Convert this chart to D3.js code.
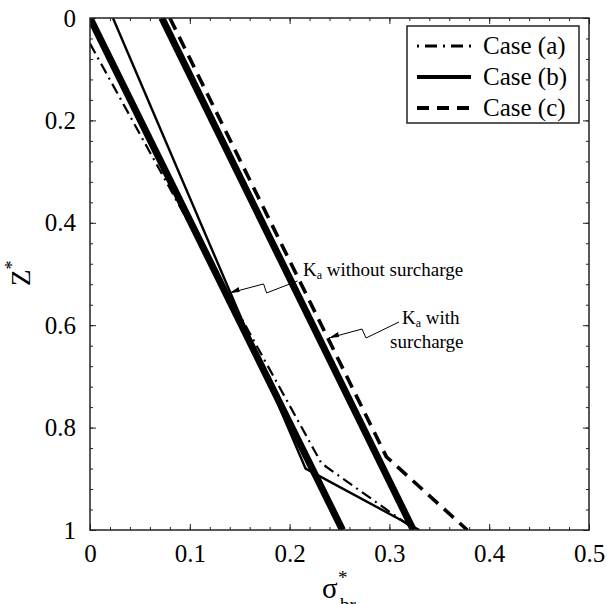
<!DOCTYPE html>
<html><head><meta charset="utf-8">
<script src="https://cdn.jsdelivr.net/npm/d3@7/dist/d3.min.js"></script>
<style>
html,body{margin:0;padding:0;background:#fff;}
svg{display:block;}
text{font-family:"Liberation Serif","Times New Roman",serif;fill:#000;}
</style></head>
<body>
<svg id="chart" width="607" height="604"></svg>
<script>
// ---- data ----
const sigmaTicks = [0, 0.1, 0.2, 0.3, 0.4, 0.5];
const zTicks = [0, 0.2, 0.4, 0.6, 0.8, 1];
const sigmaMinorTicks = d3.range(0, 0.5001, 0.02);
const zMinorTicks = d3.range(0, 1.0001, 0.04);

const kaNoSurchargeSigma = [0, 0.253];
const kaNoSurchargeZ = [0, 1];
const kaSurchargeSigma = [0.072, 0.324];
const kaSurchargeZ = [0, 1];

const caseASigma = [0, 0.232, 0.326];
const caseAZ = [0.05, 0.87, 1];
const caseBSigma = [0.023, 0.216, 0.33];
const caseBZ = [0, 0.88, 1];
const caseCSigma = [0.08, 0.297, 0.378];
const caseCZ = [0, 0.857, 1];

const legendLabels = ["Case (a)", "Case (b)", "Case (c)"];

// ---- layout ----
const svg = d3.select("#chart");
const x = d3.scaleLinear().domain([0, 0.5]).range([90, 589]);
const y = d3.scaleLinear().domain([0, 1]).range([18, 530]);
const fmt = d => d === 0 ? "0" : d === 1 ? "1" : d3.format(".1f")(d);

svg.append("defs").append("clipPath").attr("id", "plotclip")
  .append("rect").attr("x", x(0)).attr("y", y(0))
  .attr("width", x(0.5) - x(0)).attr("height", y(1) - y(0));

const toPts = (s, z) => s.map((v, i) => [v, z[i]]);
const line = d3.line().x(d => x(d[0])).y(d => y(d[1]));

const plot = svg.append("g").attr("clip-path", "url(#plotclip)");

// Ka lines (thick)
plot.append("path").datum(toPts(kaNoSurchargeSigma, kaNoSurchargeZ))
  .attr("d", line).attr("fill", "none").attr("stroke", "#000").attr("stroke-width", 7);
plot.append("path").datum(toPts(kaSurchargeSigma, kaSurchargeZ))
  .attr("d", line).attr("fill", "none").attr("stroke", "#000").attr("stroke-width", 7);

// cases
const styles = [
  {w: 2.2, dash: "11,5,2,5"},
  {w: 2.4, dash: null},
  {w: 3.6, dash: "13,8"}
];
const cases = [toPts(caseASigma, caseAZ), toPts(caseBSigma, caseBZ), toPts(caseCSigma, caseCZ)];
cases.forEach((pts, i) => {
  plot.append("path").datum(pts).attr("d", line)
    .attr("fill", "none").attr("stroke", "#000")
    .attr("stroke-width", styles[i].w)
    .attr("stroke-dasharray", styles[i].dash)
    .attr("stroke-linejoin", "miter");
});

// ---- axes ----
const axisG = svg.append("g");
function styleAxis(g) {
  g.select(".domain").remove();
  g.attr("font-family", null);
  g.selectAll("line").attr("stroke", "#222").attr("stroke-width", 1);
  g.selectAll("text").style("font-family", "Liberation Serif, serif").style("font-size", "25px").attr("fill", "#000");
}
// bottom
axisG.append("g").attr("transform", `translate(0,${y(1)})`)
  .call(d3.axisBottom(x).tickValues(sigmaTicks).tickFormat(fmt).tickSizeInner(-6).tickSizeOuter(0).tickPadding(14))
  .call(styleAxis);
axisG.append("g").attr("transform", `translate(0,${y(1)})`)
  .call(d3.axisBottom(x).tickValues(sigmaMinorTicks).tickFormat("").tickSizeInner(-3).tickSizeOuter(0))
  .call(styleAxis);
// top
axisG.append("g").attr("transform", `translate(0,${y(0)})`)
  .call(d3.axisTop(x).tickValues(sigmaTicks).tickFormat("").tickSizeInner(-6).tickSizeOuter(0))
  .call(styleAxis);
axisG.append("g").attr("transform", `translate(0,${y(0)})`)
  .call(d3.axisTop(x).tickValues(sigmaMinorTicks).tickFormat("").tickSizeInner(-3).tickSizeOuter(0))
  .call(styleAxis);
// left
axisG.append("g").attr("transform", `translate(${x(0)},0)`)
  .call(d3.axisLeft(y).tickValues(zTicks).tickFormat(fmt).tickSizeInner(-6).tickSizeOuter(0).tickPadding(14))
  .call(styleAxis);
axisG.append("g").attr("transform", `translate(${x(0)},0)`)
  .call(d3.axisLeft(y).tickValues(zMinorTicks).tickFormat("").tickSizeInner(-3).tickSizeOuter(0))
  .call(styleAxis);
// right
axisG.append("g").attr("transform", `translate(${x(0.5)},0)`)
  .call(d3.axisRight(y).tickValues(zTicks).tickFormat("").tickSizeInner(-6).tickSizeOuter(0))
  .call(styleAxis);
axisG.append("g").attr("transform", `translate(${x(0.5)},0)`)
  .call(d3.axisRight(y).tickValues(zMinorTicks).tickFormat("").tickSizeInner(-3).tickSizeOuter(0))
  .call(styleAxis);
// frame
svg.append("rect").attr("x", x(0)).attr("y", y(0))
  .attr("width", x(0.5) - x(0)).attr("height", y(1) - y(0))
  .attr("fill", "none").attr("stroke", "#222").attr("stroke-width", 1.5);

// ---- axis titles ----
const yt = svg.append("text").attr("transform", `translate(30,${(y(0) + y(1)) / 2 + 12}) rotate(-90)`)
  .style("font-size", "27px");
yt.append("tspan").text("Z");
yt.append("tspan").attr("dy", -12).style("font-size", "18px").text("*");

const xt = svg.append("g");
xt.append("text").attr("x", 322).attr("y", 598).style("font-size", "29px").text("σ");
xt.append("text").attr("x", 338).attr("y", 584).style("font-size", "19px").text("*");
xt.append("text").attr("x", 340).attr("y", 611).style("font-size", "19px").text("br");

// ---- legend ----
const lg = svg.append("g");
lg.append("rect").attr("x", 407).attr("y", 26).attr("width", 172).attr("height", 97)
  .attr("fill", "#fff").attr("stroke", "#222").attr("stroke-width", 1.5);
const legendStyles = [
  {w: 3, dash: "2,6,12,6"},
  {w: 4, dash: null},
  {w: 4, dash: "12,8"}
];
legendLabels.forEach((lab, i) => {
  const cy = 46 + i * 31;
  lg.append("line").attr("x1", 417).attr("x2", 471).attr("y1", cy).attr("y2", cy)
    .attr("stroke", "#000").attr("stroke-width", legendStyles[i].w)
    .attr("stroke-dasharray", legendStyles[i].dash);
  lg.append("text").attr("x", 483).attr("y", cy + 8).style("font-size", "25px").text(lab);
});

// ---- annotations ----
function kaLabel(g, xx, yy, rest) {
  const t = g.append("text").attr("x", xx).attr("y", yy).style("font-size", "19px");
  t.append("tspan").text("K");
  t.append("tspan").attr("dy", 3).style("font-size", "12px").text("a");
  t.append("tspan").attr("dy", -3).text(rest);
  return t;
}
const ann = svg.append("g");
// without surcharge: arrow to Ka line (no surcharge)
const z1 = 0.537;
const tip1 = [x(kaNoSurchargeSigma[1] * z1) + 4, y(z1)];
ann.append("path")
  .attr("d", `M${tip1[0]},${tip1[1]} L${tip1[0] + 34},${tip1[1] - 9} L${tip1[0] + 37},${tip1[1]} L${tip1[0] + 68},${tip1[1] - 12}`)
  .attr("fill", "none").attr("stroke", "#000").attr("stroke-width", 1);
ann.append("path")
  .attr("d", `M${tip1[0]},${tip1[1]} l9,-6 l1,5 z`).attr("fill", "#000");
kaLabel(ann, 303, 276, " without surcharge");

// with surcharge
const z2 = 0.625;
const tip2 = [x(caseCSigma[0] + 0.252 * z2) + 2, y(z2)];
ann.append("path")
  .attr("d", `M${tip2[0]},${tip2[1]} L${tip2[0] + 33},${tip2[1] - 9} L${tip2[0] + 37},${tip2[1]} L${tip2[0] + 70},${tip2[1] - 16}`)
  .attr("fill", "none").attr("stroke", "#000").attr("stroke-width", 1);
ann.append("path")
  .attr("d", `M${tip2[0]},${tip2[1]} l9,-6 l1,5 z`).attr("fill", "#000");
kaLabel(ann, 402, 324, " with");
ann.append("text").attr("x", 390).attr("y", 348).style("font-size", "19px").text("surcharge");
</script>
</body></html>
